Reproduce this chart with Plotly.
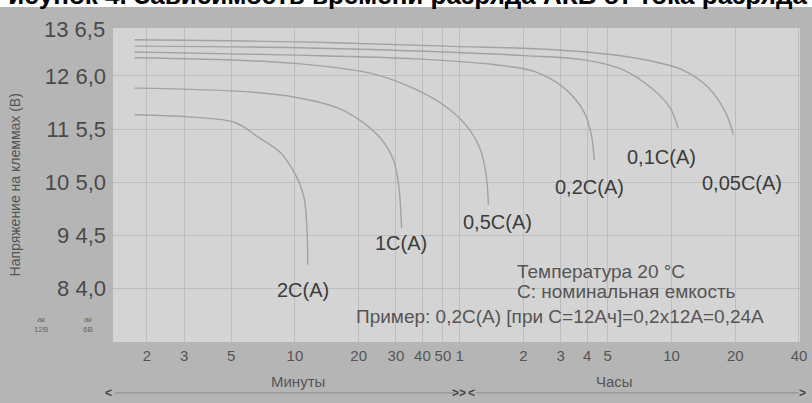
import plotly.graph_objects as go

# время разряда в минутах, напряжение в вольтах (АКБ 12В)
t_005c = [1.75, 10.3, 51.7, 168, 398, 680, 890, 1079, 1176]
v_005c = [12.68, 12.64, 12.56, 12.49, 12.34, 12.11, 11.79, 11.32, 10.89]

t_01c = [1.75, 10.3, 51.7, 122, 232, 357, 493, 591, 645]
v_01c = [12.56, 12.53, 12.45, 12.38, 12.30, 12.11, 11.74, 11.40, 11.02]

t_02c = [1.75, 10.3, 37.4, 88.4, 136, 187, 232, 251, 259]
v_02c = [12.45, 12.39, 12.32, 12.21, 12.08, 11.77, 11.32, 10.89, 10.42]

t_05c = [1.75, 10.3, 24.4, 37.4, 51.7, 64.0, 73.6, 79.4, 82.0]
v_05c = [12.34, 12.23, 12.02, 11.74, 11.42, 11.08, 10.70, 10.23, 9.58]

t_1c = [1.75, 6.03, 10.3, 15.9, 20.7, 25.7, 29.2, 30.9, 31.9]
v_1c = [11.77, 11.70, 11.59, 11.40, 11.14, 10.80, 10.42, 9.95, 9.14]

t_2c = [1.75, 3.17, 5.24, 6.71, 8.59, 9.78, 10.5, 11.1, 11.4, 11.5]
v_2c = [11.27, 11.23, 11.12, 10.85, 10.55, 10.23, 9.99, 9.67, 9.11, 8.45]

x_ticks = [2, 3, 5, 10, 20, 30, 40, 50, 60, 120, 180, 240, 300, 600, 1200, 2400]
x_labels = ["2", "3", "5", "10", "20", "30", "40", "50", "1", "2", "3", "4", "5", "10", "20", "40"]
y_ticks = [8, 9, 10, 11, 12]
y_labels = ["8 4,0", "9 4,5", "10 5,0", "11 5,5", "12 6,0"]

FONT = "Liberation Sans"
curve_col = "#a2a2a2"
txt_col = "#4a4a4a"

fig = go.Figure()
for t, v in [(t_005c, v_005c), (t_01c, v_01c), (t_02c, v_02c),
             (t_05c, v_05c), (t_1c, v_1c), (t_2c, v_2c)]:
    fig.add_trace(go.Scatter(x=t, y=v, mode="lines", line=dict(color=curve_col, width=1.4, shape="spline"),
                             showlegend=False, hoverinfo="skip"))

labels = [("2C(A)", 1.037, 7.98), ("1C(A)", 1.503, 8.86), ("0,5C(A)", 1.956, 9.26),
          ("0,2C(A)", 2.389, 9.91), ("0,1C(A)", 2.730, 10.48), ("0,05C(A)", 3.113, 9.99)]
for txt, lx, ly in labels:
    fig.add_annotation(x=lx, y=ly, text=txt, showarrow=False,
                       font=dict(family=FONT, size=20, color="#3c3c3c"))

notes = [("Температура 20 °С", 2.040, 8.32), ("С: номинальная емкость", 2.040, 7.94),
         ("Пример: 0,2С(А) [при С=12Ач]=0,2х12А=0,24А", 1.279, 7.47)]
for txt, lx, ly in notes:
    fig.add_annotation(x=lx, y=ly, text=txt, showarrow=False, xanchor="left",
                       font=dict(family=FONT, size=19, color="#555555"))


def paper_text(x, y, text, size, color="#555555", xanchor="center", **kw):
    fig.add_annotation(xref="paper", yref="paper", x=x, y=y, text=text, showarrow=False,
                       xanchor=xanchor, yanchor="middle",
                       font=dict(family=FONT, size=size, color=color), **kw)


# верхняя метка 13 / 6,5
paper_text(-0.009, 0.994, "13 6,5", 22, txt_col, xanchor="right")
# подписи АК 12В / 6В
paper_text(-0.105, 0.055, "ак<br>12В", 8, "#666666")
paper_text(-0.037, 0.055, "ак<br>6В", 8, "#666666")
# ось Y подпись
paper_text(-0.142, 0.5, "Напряжение на клеммах (В)", 14, textangle=-90)
# Минуты / Часы
paper_text(0.269, -0.127, "Минуты", 15)
paper_text(0.7305, -0.127, "Часы", 15)
for txt, ax in [("&lt;", -0.007), ("&gt;&gt;", 0.503), ("&lt;", 0.522), ("&gt;", 1.003)]:
    paper_text(ax, -0.162, "<b>%s</b>" % txt, 12, "#444444")
fig.add_shape(type="line", xref="paper", yref="paper", x0=0.003, x1=0.497, y0=-0.162, y1=-0.162,
              line=dict(color="#8a8a8a", width=1))
fig.add_shape(type="line", xref="paper", yref="paper", x0=0.528, x1=0.998, y0=-0.162, y1=-0.162,
              line=dict(color="#8a8a8a", width=1))

# белая полоса с обрезанным заголовком
fig.add_shape(type="rect", xref="paper", yref="paper", x0=-0.3, x1=1.1, y0=1.067, y1=1.2,
              fillcolor="white", line=dict(width=0), layer="below")
paper_text(-0.180, 1.105, "<b>Рисунок 4. Зависимость времени разряда АКБ от тока разряда</b>",
           26, "black", xanchor="left")

fig.update_xaxes(type="log", range=[0.141, 3.385], tickvals=x_ticks, ticktext=x_labels,
                 showgrid=True, gridcolor="#bdbdbd", gridwidth=1, zeroline=False,
                 tickfont=dict(family=FONT, size=15, color="#555555"), ticklabelstandoff=3,
                 ticklabeloverflow="allow", showline=False)
fig.update_yaxes(range=[7.0, 12.9], tickvals=y_ticks, ticktext=y_labels,
                 showgrid=True, gridcolor="#bdbdbd", gridwidth=1, zeroline=False,
                 tickfont=dict(family=FONT, size=22, color=txt_col), ticklabelstandoff=6,
                 showline=False)

fig.update_layout(width=812, height=403, margin=dict(l=113, r=5, t=28, b=61),
                  paper_bgcolor="#b5b5b5", plot_bgcolor="#d4d4d4",
                  font=dict(family=FONT))

fig.write_html("out.html", config={"displayModeBar": False},
               post_script="document.body.style.margin='0';")
